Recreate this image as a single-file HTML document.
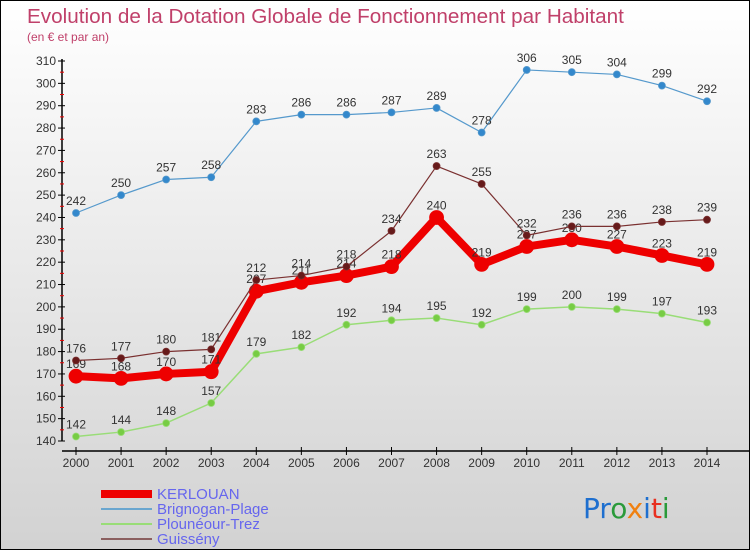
<!DOCTYPE html>
<html><head><meta charset="utf-8"><style>
html,body{margin:0;padding:0}
body{width:750px;height:550px;overflow:hidden;font-family:"Liberation Sans",sans-serif}
#wrap{position:relative;width:748px;height:548px;border:1px solid #000;background:linear-gradient(#ffffff,#d2d2d2)}
svg{position:absolute;left:0;top:0}
</style></head><body>
<div id="wrap">
<svg id="chart" width="750" height="550">
<text x="26" y="22" font-size="20.7" fill="#c0406a">Evolution de la Dotation Globale de Fonctionnement par Habitant</text>
<text x="26" y="40" font-size="12" fill="#c0406a">(en € et par an)</text>
<g id="axes"></g><g id="series"></g>
<g>
<rect x="100" y="489" width="51" height="8" fill="#ee0000"/>
<text x="156" y="498" font-size="15" fill="#6666ee">KERLOUAN</text>
<rect x="100" y="507" width="51" height="2" fill="#6aa6cf"/>
<text x="156" y="513" font-size="15" fill="#6666ee">Brignogan-Plage</text>
<rect x="100" y="522" width="51" height="2" fill="#99dd77"/>
<text x="156" y="528" font-size="15" fill="#6666ee">Plounéour-Trez</text>
<rect x="100" y="537" width="51" height="2" fill="#8b6060"/>
<text x="156" y="543" font-size="15" fill="#6666ee">Guissény</text>
</g>
<text x="582" y="517" font-size="28" font-family="DejaVu Sans"><tspan fill="#1e6fcf">Pr</tspan><tspan fill="#2a9a3a">o</tspan><tspan fill="#f08010">x</tspan><tspan fill="#1e6fcf">i</tspan><tspan fill="#e83020">t</tspan><tspan fill="#2a9a3a">i</tspan></text>
</svg>
</div>
<script>
const years=[2000,2001,2002,2003,2004,2005,2006,2007,2008,2009,2010,2011,2012,2013,2014];
const kerlouan=[169,168,170,171,207,211,214,218,240,219,227,230,227,223,219];
const brignogan=[242,250,257,258,283,286,286,287,289,278,306,305,304,299,292];
const plouneour=[142,144,148,157,179,182,192,194,195,192,199,200,199,197,193];
const guisseny=[176,177,180,181,212,214,218,234,263,255,232,236,236,238,239];
const yTicks=[140,150,160,170,180,190,200,210,220,230,240,250,260,270,280,290,300,310];
const NS='http://www.w3.org/2000/svg';
const xS=i=>75+i*(706-75)/(years.length-1);
const yS=v=>440-(v-140)*(380/170);
function mk(tag,attrs,parent){const e=document.createElementNS(NS,tag);for(const k in attrs)e.setAttribute(k,attrs[k]);parent.appendChild(e);return e;}
const ax=document.getElementById('axes');
let l=mk('line',{x1:61,y1:58,x2:61,y2:440,stroke:'#000','stroke-width':1.5},ax);


l=mk('line',{x1:61,y1:450,x2:750,y2:450,stroke:'#000','stroke-width':1.5},ax);


yTicks.forEach((v,i)=>{const y=yS(v);mk('line',{x1:57,y1:y,x2:64,y2:y,stroke:'#000'},ax);
 if(i<yTicks.length-1)mk('line',{x1:59,y1:y-380/34,x2:63,y2:y-380/34,stroke:'#e00'},ax);
 const t=mk('text',{x:55,y:y+4,'font-size':12,'text-anchor':'end',fill:'#333'},ax);t.textContent=v;
 
 });
years.forEach((yr,i)=>{const x=xS(i);mk('line',{x1:x,y1:446,x2:x,y2:454,stroke:'#000'},ax);
 const t=mk('text',{x:x,y:466,'font-size':12,'text-anchor':'middle',fill:'#333'},ax);t.textContent=yr;
 
 });
const sg=document.getElementById('series');
function draw(name,data,color,w,r,dot){
 const g=mk('g',{},sg);
 
 
 mk('polyline',{points:data.map((v,i)=>xS(i)+','+yS(v)).join(' '),fill:'none',stroke:color,'stroke-width':w,'stroke-linejoin':'round'},g);
 data.forEach((v,i)=>{const c=mk('circle',{cx:xS(i),cy:yS(v),r:r,fill:dot,stroke:color,'stroke-width':0.8},g);
  
  
  const t=mk('text',{x:xS(i),y:yS(v)-8,'font-size':12,'text-anchor':'middle',fill:'#333'},g);t.textContent=v;
  
  });
}
draw('plouneour',plouneour,'#99dd77',1.5,3.5,'#77cc44');
draw('brignogan',brignogan,'#5599cc',1.2,3.5,'#3388cc');
draw('kerlouan',kerlouan,'#ee0000',8,7,'#ee0000');
draw('guisseny',guisseny,'#7a3030',1.2,3.5,'#661a1a');
</script>
</body></html>
